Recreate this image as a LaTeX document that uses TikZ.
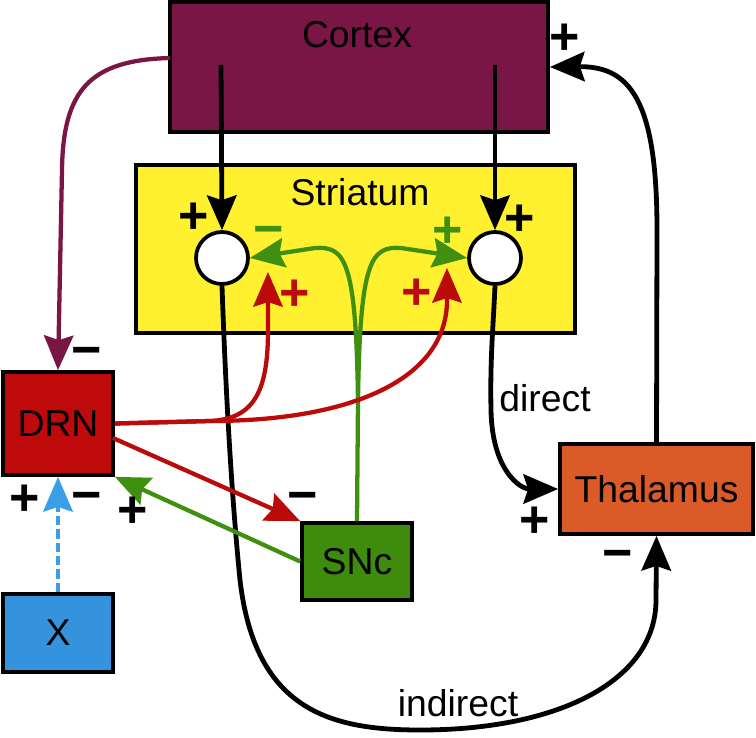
\documentclass[tikz,border=0pt]{standalone}
\usepackage{fontspec}
\setmainfont{Liberation Sans}
\usetikzlibrary{arrows.meta}
\definecolor{ctxc}{HTML}{7A1645}
\definecolor{strc}{HTML}{FFF030}
\definecolor{drnc}{HTML}{BE0A0A}
\definecolor{thalc}{HTML}{DA5A28}
\definecolor{sncc}{HTML}{3F8B0C}
\definecolor{xc}{HTML}{3593DD}
\definecolor{redl}{HTML}{BB0A0A}
\definecolor{grnl}{HTML}{3F9010}
\definecolor{blul}{HTML}{3A9FE6}
\begin{document}
\begin{tikzpicture}[x=0.75pt,y=-0.75pt,
  box/.style={draw=black, line width=2.8pt, inner sep=0pt, font=\fontsize{28}{28}\selectfont},
  cell/.style={circle, draw=black, fill=white, line width=2.8pt, minimum size=39pt, inner sep=0pt},
  tip/.style={-{Stealth[length=26pt,width=22pt,inset=3.5pt]}},
  conn/.style={tip, line width=3.6pt},
  cconn/.style={tip, line width=3.2pt},
  sign/.style={inner sep=0pt, anchor=base, yshift=-13pt, font=\fontsize{39}{39}\selectfont\bfseries},
  word/.style={inner sep=0pt, font=\fontsize{28}{28}\selectfont}
]
\useasboundingbox (0,0) rectangle (756,738);

% boxes
\node[box, fill=ctxc, minimum width=283.5pt, minimum height=97.5pt] (cortex) at (359,67) {};
\node[word] (ctxt) at (357,35) {Cortex};
\node[box, fill=strc, minimum width=329.25pt, minimum height=126pt] (str) at (355.5,249) {};
\node[word] (strt) at (360,192) {Striatum};
\node[box, fill=drnc, minimum width=82.5pt, minimum height=77.25pt] (drn) at (58,423.5) {DRN};
\node[box, fill=xc, minimum width=82.5pt, minimum height=58.5pt] (x) at (58,633) {X};
\node[box, fill=sncc, minimum width=82.5pt, minimum height=57.75pt] (snc) at (357,561.5) {SNc};
\node[box, fill=thalc, minimum width=144.75pt, minimum height=67.5pt] (thal) at (656.5,489) {Thalamus};

\node[cell] (lc) at (222,258) {};
\node[cell] (rc) at (495,258) {};

\coordinate (c1) at (221,65);
\coordinate (c2) at (495,65);
\coordinate (pc) at (170,58);
\coordinate (r1) at (268,272);
\coordinate (r2) at (447,268);
\coordinate (d2) at (113,438);
\coordinate (gj) at (358,400);

% black connectors
\draw[conn] (c1) -- (lc.north);
\draw[conn] (c2) -- (rc.north);
\draw[conn] (thal.north) -- (657,230) .. controls (657,100) and (630,66) .. (cortex.east);
\draw[conn] (rc.south) .. controls (493,330) and (490,360) .. (491,410) .. controls (492,470) and (520,489) .. (thal.west);
\draw[conn] (lc.south) .. controls (226,400) and (232,500) .. (240,580) .. controls (255,710) and (330,730) .. (420,730) .. controls (560,730) and (656,680) .. (656,600) -- (thal.south);

% purple
\draw[cconn, ctxc] (pc) .. controls (90,60) and (63,90) .. (62,170) -- (drn.north);

% blue dashed
\draw[cconn, line width=3.6pt, blul, dash pattern=on 7pt off 3pt] (x.north) -- (drn.south);

% green
\draw[cconn, grnl] (snc.west) -- (drn.south east);
\draw[line width=3.2pt, grnl] (snc.north) -- (gj);
\draw[cconn, grnl] (gj) .. controls (356,260) and (345,246) .. (315,248) -- (lc.east);
\draw[cconn, grnl] (gj) .. controls (360,260) and (371,246) .. (401,248) -- (rc.west);

% red
\draw[cconn, redl] (drn.east) -- (210,421) .. controls (255,419) and (268,390) .. (268,330) -- (r1);
\draw[cconn, redl] (drn.east) -- (210,421) .. controls (350,421) and (447,380) .. (447,300) -- (r2);
\draw[cconn, redl] (d2) -- (snc.north west);

% labels
\node[word] (ldir) at (545,398) {direct};
\node[word] (lind) at (458,703) {indirect};

\node[sign] (s1) at (194,216) {+};
\node[sign] (s2) at (520,218) {+};
\node[sign, text=grnl] (s3) at (269,229) {−};
\node[sign, text=grnl] (s4) at (448,230) {+};
\node[sign, text=redl] (s5) at (295,293) {+};
\node[sign, text=redl] (s6) at (417,292) {+};
\node[sign] (s7) at (87,350) {−};
\node[sign] (s8) at (25,498) {+};
\node[sign] (s9) at (87,495) {−};
\node[sign] (s10) at (133,510) {+};
\node[sign] (s11) at (303,495) {−};
\node[sign] (s12) at (565,37) {+};
\node[sign] (s13) at (535,520) {+};
\node[sign] (s14) at (618,553) {−};
\end{tikzpicture}
\end{document}
